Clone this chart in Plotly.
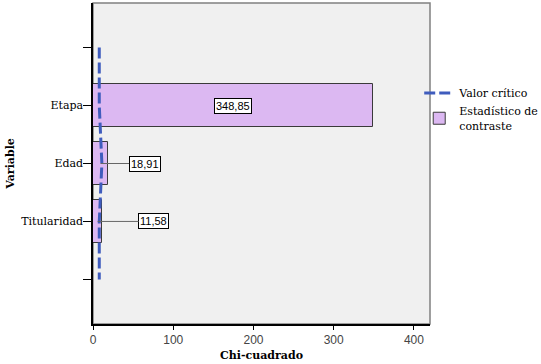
import plotly.graph_objects as go

# ---- data ----
categories = ["Etapa", "Edad", "Titularidad"]
statistic = [348.85, 18.91, 11.58]
stat_labels = ["348,85", "18,91", "11,58"]
# critical value line (including the empty end positions of the axis)
crit_positions = ["", "Etapa", "Edad", "Titularidad", " "]
critical = [7.81, 7.81, 11.07, 7.81, 7.81]
x_ticks = [0, 100, 200, 300, 400]

# numeric slots for the category axis (top -> bottom)
slot = {"": 4, "Etapa": 3, "Edad": 2, "Titularidad": 1, " ": 0}
bar_y = [slot[c] for c in categories]
crit_y = [slot[c] for c in crit_positions]

serif = "DejaVu Serif, Liberation Serif, serif"
sans = "Liberation Sans, Arial, sans-serif"

fig = go.Figure()

fig.add_trace(go.Bar(
    x=statistic, y=bar_y, orientation="h", width=0.74,
    name="Estadístico de<br>contraste", legendrank=2,
    marker=dict(color="#dcb8f2", line=dict(color="#3a3a3a", width=1)),
))
fig.add_trace(go.Scatter(
    x=critical, y=crit_y, mode="lines", name="Valor crítico", legendrank=1,
    line=dict(color="#3f5cbd", width=3, dash="11px,4px"),
))

offsets = [0, 44, 56]
for c, v, lab, off in zip(categories, statistic, stat_labels, offsets):
    fig.add_annotation(
        x=v / 2, y=slot[c], text=lab,
        showarrow=off != 0, ax=off, ay=0, arrowhead=0, arrowwidth=1,
        arrowcolor="#666666", standoff=0,
        font=dict(family=sans, size=11, color="black"),
        bgcolor="white", bordercolor="black", borderwidth=1, borderpad=1,
    )

fig.update_layout(
    width=541, height=364,
    margin=dict(l=93, r=111, t=3, b=40, autoexpand=False),
    paper_bgcolor="white", plot_bgcolor="#f0f0f0",
    showlegend=True,
    legend=dict(
        x=0.968, y=0.765, xanchor="left", yanchor="top",
        font=dict(family=serif, size=11, color="black"),
        bgcolor="rgba(0,0,0,0)", traceorder="normal",
        tracegroupgap=0, itemwidth=30,
    ),
    bargap=0,
)
fig.update_xaxes(
    range=[0, 420], tickvals=x_ticks, ticktext=[str(t) for t in x_ticks],
    showgrid=False, zeroline=False,
    showline=True, linecolor="black", linewidth=1.5, mirror=False,
    ticks="outside", ticklen=4, tickcolor="black",
    tickfont=dict(family=sans, size=12, color="#444444"),
    title=dict(text="<b>Chi-cuadrado</b>", font=dict(family=serif, size=11, color="black"), standoff=5),
)
fig.update_yaxes(
    range=[-0.77, 4.77], tickvals=[4, 3, 2, 1, 0],
    ticktext=["", "Etapa", "Edad", "Titularidad", ""],
    showgrid=False, zeroline=False,
    showline=True, linecolor="black", linewidth=1.5,
    ticks="outside", ticklen=8, tickcolor="black", ticklabelstandoff=-2,
    tickfont=dict(family=serif, size=11, color="black"),
    title=dict(text="<b>Variable</b>", font=dict(family=serif, size=11, color="black"), standoff=4),
)
# gray frame on top/right
fig.add_shape(type="rect", xref="paper", yref="paper", x0=0, x1=1, y0=0, y1=1,
              line=dict(color="#808080", width=1.5), layer="below")

fig.write_html("out.html", config={"displayModeBar": False},
               post_script="document.body.style.margin='0';")
